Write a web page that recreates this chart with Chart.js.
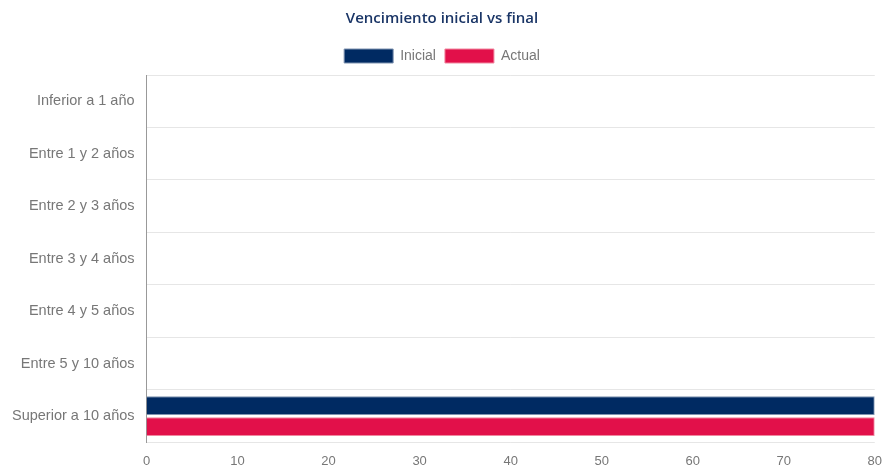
<!DOCTYPE html>
<html>
<head>
<meta charset="utf-8">
<script src="https://cdn.jsdelivr.net/npm/chart.js@4"></script>
<style>
  html, body { margin: 0; padding: 0; background: #fff; }
  #wrap { width: 885px; height: 472px; }
</style>
</head>
<body>
<div id="wrap"><canvas id="vencChart"></canvas></div>
<script>
const categories = ['Inferior a 1 año', 'Entre 1 y 2 años', 'Entre 2 y 3 años', 'Entre 3 y 4 años', 'Entre 4 y 5 años', 'Entre 5 y 10 años', 'Superior a 10 años'];
const inicial = [0, 0, 0, 0, 0, 0, 80];
const actual = [0, 0, 0, 0, 0, 0, 80];

// legend gets a bit more room below it, like the original
const legendGap = {
    id: 'legendGap',
    beforeInit(chart) {
        const fit = chart.legend.fit;
        chart.legend.fit = function () {
            fit.bind(chart.legend)();
            this.height += 2;
        };
    }
};

document.addEventListener('DOMContentLoaded', () => {
    const ctx = document.getElementById('vencChart');
    new Chart(ctx, {
        type: 'bar',
        data: {
            labels: categories,
            datasets: [{
                label: 'Inicial',
                data: inicial,
                backgroundColor: '#002a62',
                borderColor: '#7f93b0',
                borderWidth: 1
            },
            {
                label: 'Actual',
                data: actual,
                backgroundColor: '#e2104a',
                borderColor: '#f0879f',
                borderWidth: 1
            }]
        },
        options: {
            indexAxis: 'y',
            responsive: true,
            maintainAspectRatio: false,
            animation: false,
            layout: { padding: { left: 0, right: 1, top: 0, bottom: 0 } },
            plugins: {
                title: {
                    display: true,
                    text: 'Vencimiento inicial vs final',
                    color: '#1a3566',
                    font: { family: 'Open Sans', size: 15, weight: '600' },
                    padding: { top: 10, bottom: 12 }
                },
                legend: {
                    labels: {
                        boxWidth: 49,
                        boxHeight: 14,
                        color: '#777',
                        font: { family: 'Liberation Sans', size: 14 },
                        padding: 9
                    }
                },
                tooltip: { enabled: false }
            },
            scales: {
                x: {
                    min: 0,
                    max: 80,
                    ticks: { stepSize: 10, color: '#777', font: { family: 'Liberation Sans', size: 13 } },
                    grid: { display: false },
                    border: { display: false }
                },
                y: {
                    ticks: { color: '#777', padding: 12, font: { family: 'Liberation Sans', size: 14.5 } },
                    grid: { color: '#e6e6e6', tickLength: 0 },
                    border: { color: '#999' }
                }
            }
        },
        plugins: [legendGap]
    });
});
</script>
</body>
</html>
